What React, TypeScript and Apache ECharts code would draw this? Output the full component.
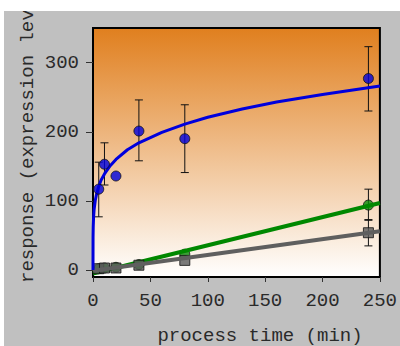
import React, { useEffect, useRef } from "react";
import * as echarts from "echarts";

// ---- data ----
const sampleTimes = [5, 10, 20, 40, 80, 240];
const blueValues = [117, 153, 136, 201, 190, 277];
const blueErrLow = [77, 123, 136, 158, 141, 230];
const blueErrHigh = [156, 184, 136, 246, 239, 323];

const greenTimes = [5, 10, 20, 40, 80, 240];
const greenValues = [2, 3, 4, 8, 23, 94];
const greenErrLow = [2, 3, 4, 8, 23, 72];
const greenErrHigh = [2, 3, 4, 8, 23, 117];

const grayTimes = [5, 10, 20, 40, 80, 240];
const grayValues = [2, 3, 3, 7, 14, 54];
const grayErrLow = [2, 3, 3, 7, 14, 35];
const grayErrHigh = [2, 3, 3, 7, 14, 73];

// fitted curve
const blueCurveT = [0, 0.05, 0.2, 0.5, 1, 2, 3, 5, 7, 10, 15, 20, 30, 40, 60, 80, 100, 130, 160, 200, 250];
const blueCurveY = [0, 48, 63, 76, 88, 101, 109, 121, 130, 139, 151, 160, 174, 184, 199, 211, 221, 233, 243, 254, 266];

const greenLineT = [0, 250];
const greenLineY = [-5, 97];
const grayLineT = [0, 250];
const grayLineY = [-1, 56];

const xTicks = [0, 50, 100, 150, 200, 250];
const yTicks = [0, 100, 200, 300];

const xTitle = "process time (min)";
const yTitle = "response (expression level)";

const FONT = "Liberation Mono";
const FS = 19;
const TXT = "#2a2a2a";

function zip(a: number[], b: number[]) {
  return a.map((v, i) => [v, b[i]]);
}

function errData(t: number[], lo: number[], hi: number[]) {
  return t.map((v, i) => [v, lo[i], hi[i]]);
}

function errSeries(data: number[][], z: number) {
  return {
    type: "custom",
    z,
    silent: true,
    data,
    encode: { x: 0, y: [1, 2] },
    renderItem: (params: any, api: any) => {
      const x = api.value(0);
      const lo = api.coord([x, api.value(1)]);
      const hi = api.coord([x, api.value(2)]);
      const hw = 4;
      const style = { stroke: "#111", lineWidth: 1 };
      if (Math.abs(lo[1] - hi[1]) < 1) return { type: "group", children: [] };
      return {
        type: "group",
        children: [
          { type: "line", shape: { x1: lo[0], y1: lo[1], x2: hi[0], y2: hi[1] }, style },
          { type: "line", shape: { x1: lo[0] - hw, y1: lo[1], x2: lo[0] + hw, y2: lo[1] }, style },
          { type: "line", shape: { x1: hi[0] - hw, y1: hi[1], x2: hi[0] + hw, y2: hi[1] }, style },
        ],
      };
    },
  };
}

export default function App() {
  const ref = useRef<HTMLDivElement>(null);
  useEffect(() => {
    if (!ref.current) return;
    const chart = echarts.init(ref.current, null, { renderer: "svg" });
    chart.setOption({
      animation: false,
      backgroundColor: "#c0c0c0",
      textStyle: { fontFamily: FONT },
      grid: {
        left: 89,
        top: 17,
        right: 14,
        bottom: 69,
        show: true,
        borderColor: "#000",
        borderWidth: 2,
        backgroundColor: new echarts.graphic.LinearGradient(0, 0, 0, 1, [
          { offset: 0, color: "#e07f1e" },
          { offset: 1, color: "#ffffff" },
        ]),
      },
      xAxis: {
        type: "value",
        min: 0,
        max: 250,
        interval: 50,
        splitLine: { show: false },
        axisLine: { show: true, onZero: false, lineStyle: { color: "#000", width: 2 } },
        axisTick: { show: true, length: 5, lineStyle: { color: "#333", width: 1 }, customValues: xTicks },
        axisLabel: { customValues: xTicks, margin: 14, color: TXT, fontSize: FS, fontFamily: FONT },
      },
      yAxis: {
        type: "value",
        min: -10,
        max: 350,
        splitLine: { show: false },
        axisLine: { show: true, onZero: false, lineStyle: { color: "#000", width: 2 } },
        axisTick: { show: true, length: 7, lineStyle: { color: "#333", width: 1 }, customValues: yTicks },
        axisLabel: { customValues: yTicks, margin: 14, color: TXT, fontSize: FS, fontFamily: FONT },
      },
      graphic: [
        {
          type: "text",
          x: 256,
          y: 325,
          style: {
            text: xTitle,
            font: `${FS}px "${FONT}"`,
            fill: TXT,
            align: "center",
            verticalAlign: "middle",
          },
        },
        {
          type: "text",
          x: 24,
          y: 272,
          rotation: Math.PI / 2,
          style: {
            text: yTitle,
            font: `${FS}px "${FONT}"`,
            fill: TXT,
            align: "left",
            verticalAlign: "middle",
          },
        },
      ],
      series: [
        errSeries(errData(sampleTimes, blueErrLow, blueErrHigh), 1),
        errSeries(errData(greenTimes, greenErrLow, greenErrHigh), 1),
        errSeries(errData(grayTimes, grayErrLow, grayErrHigh), 1),
        {
          type: "scatter",
          z: 2,
          data: zip(greenTimes, greenValues),
          symbol: "circle",
          symbolSize: 10,
          itemStyle: { color: "#0a8a0a", borderColor: "#111", borderWidth: 1 },
        },
        {
          type: "line",
          z: 3,
          data: zip(greenLineT, greenLineY),
          showSymbol: false,
          lineStyle: { color: "#008800", width: 4 },
        },
        {
          type: "scatter",
          z: 4,
          data: zip(grayTimes, grayValues),
          symbol: "rect",
          symbolSize: 10,
          itemStyle: { color: "#5a5a5a", borderColor: "#111", borderWidth: 1 },
        },
        {
          type: "line",
          z: 5,
          data: zip(grayLineT, grayLineY),
          showSymbol: false,
          lineStyle: { color: "#5f5f5f", width: 4 },
        },
        {
          type: "line",
          z: 6,
          data: zip(blueCurveT, blueCurveY),
          showSymbol: false,
          lineStyle: { color: "#0000dd", width: 3 },
        },
        {
          type: "scatter",
          z: 7,
          data: zip(sampleTimes, blueValues),
          symbol: "circle",
          symbolSize: 10,
          itemStyle: { color: "#0000dd", borderColor: "#111", borderWidth: 1 },
        },
      ],
    });
    return () => chart.dispose();
  }, []);
  return (
    <div
      ref={ref}
      style={{ position: "absolute", left: 4, top: 11, width: 396, height: 335 }}
    />
  );
}
